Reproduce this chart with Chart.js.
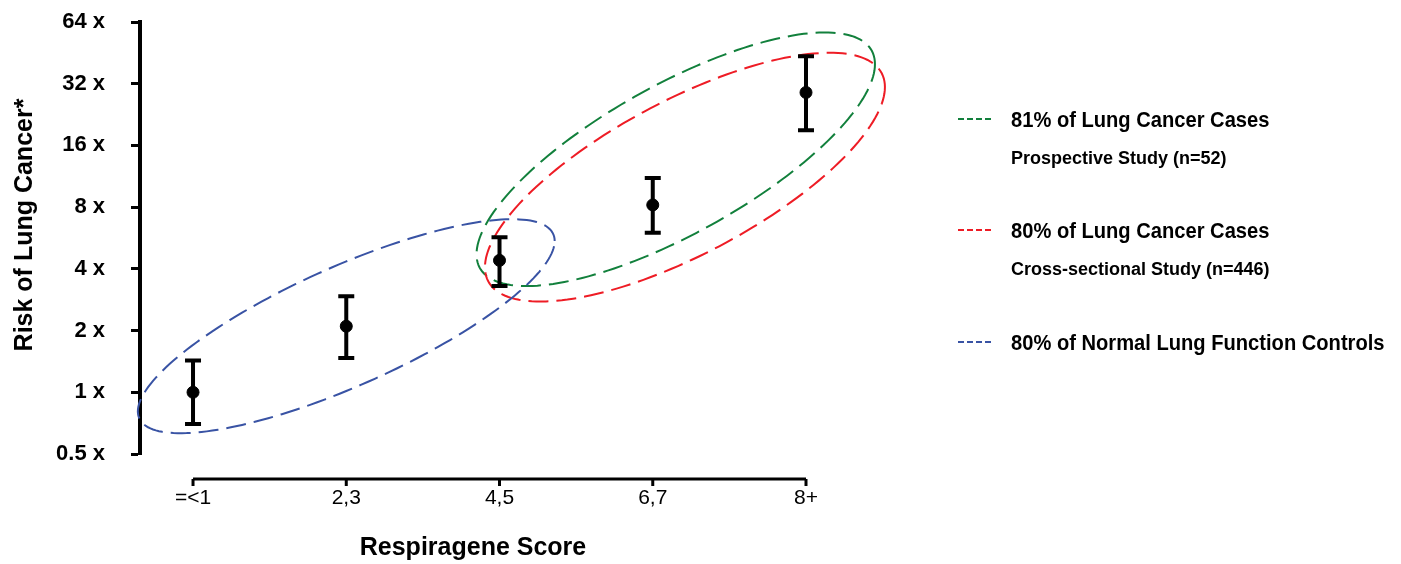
<!DOCTYPE html>
<html>
<head>
<meta charset="utf-8">
<script src="https://cdn.jsdelivr.net/npm/chart.js@4.4.1/dist/chart.umd.min.js"></script>
<style>
  html, body { margin: 0; padding: 0; background: #fff; }
  #wrap { position: relative; width: 1401px; height: 564px; }
</style>
</head>
<body>
<div id="wrap"><canvas id="riskChart"></canvas></div>
<script>
// Respiragene score vs. relative risk of lung cancer
const categories = ['=<1', '2,3', '4,5', '6,7', '8+'];
const riskValues = [1.0, 2.1, 4.4, 8.2, 29];
const riskLower = [0.70, 1.47, 3.3, 6.0, 19.0];
const riskUpper = [1.43, 2.94, 5.7, 11.1, 43.6];
const yTicks = [0.5, 1, 2, 4, 8, 16, 32, 64];

// 80% regions, in data units: centre (category index, risk), reach to the
// side point (categories, doublings) and vertical half height (doublings)
const regionLabels = ['81% of Lung Cancer Cases', '80% of Lung Cancer Cases', '80% of Normal Lung Function Controls'];
const regionNotes = ['Prospective Study (n=52)', 'Cross-sectional Study (n=446)', ''];
const regionCenterX = [3.15, 3.21, 1.0];
const regionCenterY = [13.7, 11.2, 2.1];
const regionReachX = [1.30, 1.305, 1.36];
const regionReachY = [1.54, 1.46, 1.38];
const regionHalfHeight = [1.36, 1.39, 1.05];
const regionColors = ['#12803c', '#ee1c25', '#3953a4'];

const FONT = '"Liberation Sans", Arial, sans-serif';

const overlayPlugin = {
    id: 'overlay',
    beforeDatasetsDraw(chart) {
        const ctx = chart.ctx;
        const xs = chart.scales.x, ys = chart.scales.y;
        ctx.save();

        // dashed ellipses
        regionCenterX.forEach((cx, i) => {
            const cy = Math.log2(regionCenterY[i]);
            ctx.beginPath();
            for (let k = 0; k <= 180; k++) {
                const t = k / 180 * Math.PI * 2;
                const dx = regionReachX[i] * Math.cos(t);
                const dy = regionReachY[i] * Math.cos(t) + regionHalfHeight[i] * Math.sin(t);
                const px = xs.getPixelForValue(cx + dx);
                const py = ys.getPixelForValue(Math.pow(2, cy + dy));
                if (k === 0) ctx.moveTo(px, py); else ctx.lineTo(px, py);
            }
            ctx.strokeStyle = regionColors[i];
            ctx.lineWidth = 2;
            ctx.setLineDash([20, 8]);
            ctx.stroke();
        });
        ctx.setLineDash([]);

        // error bars
        ctx.strokeStyle = '#000';
        ctx.lineWidth = 4;
        riskValues.forEach((v, i) => {
            const px = xs.getPixelForValue(i);
            const top = ys.getPixelForValue(riskUpper[i]);
            const bot = ys.getPixelForValue(riskLower[i]);
            ctx.beginPath();
            ctx.moveTo(px, top);
            ctx.lineTo(px, bot);
            ctx.moveTo(px - 8, top); ctx.lineTo(px + 8, top);
            ctx.moveTo(px - 8, bot); ctx.lineTo(px + 8, bot);
            ctx.stroke();
        });
        ctx.restore();
    },
    afterDraw(chart) {
        const ctx = chart.ctx;
        const xs = chart.scales.x;
        const area = chart.chartArea;
        ctx.save();

        // detached x axis line with small ticks
        const axisY = area.bottom + 25;
        const x0 = xs.getPixelForValue(0);
        const x1 = xs.getPixelForValue(categories.length - 1);
        ctx.strokeStyle = '#000';
        ctx.lineWidth = 3;
        ctx.beginPath();
        ctx.moveTo(x0, axisY);
        ctx.lineTo(x1, axisY);
        ctx.stroke();
        categories.forEach((c, i) => {
            const px = xs.getPixelForValue(i);
            ctx.beginPath();
            ctx.moveTo(px, axisY);
            ctx.lineTo(px, axisY + 7);
            ctx.stroke();
        });

        // y axis title
        ctx.fillStyle = '#000';
        ctx.font = 'bold 25px ' + FONT;
        ctx.textAlign = 'center';
        ctx.textBaseline = 'middle';
        ctx.translate(25, 225);
        ctx.rotate(-Math.PI / 2);
        ctx.fillText('Risk of Lung Cancer*', 0, 0);
        ctx.restore();

        // legend (narrow type, like the original)
        ctx.save();
        const lx = 958, tx = 1011;
        const rows = [119, 230, 342];
        regionLabels.forEach((label, i) => {
            const y = rows[i];
            ctx.strokeStyle = regionColors[i];
            ctx.lineWidth = 2;
            ctx.setLineDash([6, 3]);
            ctx.beginPath();
            ctx.moveTo(lx, y);
            ctx.lineTo(lx + 33, y);
            ctx.stroke();
            ctx.setLineDash([]);
            ctx.fillStyle = '#000';
            ctx.textAlign = 'left';
            ctx.textBaseline = 'alphabetic';
            ctx.save();
            ctx.translate(tx, y + 8);
            ctx.scale(0.915, 1);
            ctx.font = 'bold 22px ' + FONT;
            ctx.fillText(label, 0, 0);
            ctx.restore();
            if (regionNotes[i]) {
                ctx.font = 'bold 18px ' + FONT;
                ctx.fillText(regionNotes[i], tx, y + 45);
            }
        });
        ctx.restore();
    }
};

const ctx = document.getElementById('riskChart').getContext('2d');
const riskChart = new Chart(ctx, {
    type: 'scatter',
    data: {
        datasets: [{
            label: 'Risk',
            data: riskValues.map((v, i) => ({ x: i, y: v })),
            pointRadius: 6,
            pointBackgroundColor: '#000',
            pointBorderColor: '#000',
            clip: false
        }]
    },
    options: {
        responsive: true,
        maintainAspectRatio: false,
        animation: false,
        layout: {
            autoPadding: false,
            padding: { left: 0, top: 22, right: 595, bottom: 0 }
        },
        plugins: {
            legend: { display: false },
            tooltip: { enabled: false }
        },
        scales: {
            x: {
                type: 'linear',
                min: -0.346,
                max: categories.length - 1,
                afterFit(scale) {
                    scale.height = 110;
                    scale.paddingLeft = 0;
                    scale.paddingRight = 0;
                },
                afterBuildTicks(scale) {
                    scale.ticks = categories.map((c, i) => ({ value: i }));
                },
                grid: { display: false, drawTicks: false },
                border: { display: false },
                ticks: {
                    autoSkip: false,
                    maxRotation: 0,
                    padding: 32,
                    color: '#000',
                    font: { size: 21, family: FONT },
                    callback: (v) => categories[v]
                },
                title: {
                    display: true,
                    text: 'Respiragene Score',
                    color: '#000',
                    font: { size: 25, weight: 'bold', family: FONT },
                    padding: { top: 0, bottom: 1 }
                }
            },
            y: {
                type: 'logarithmic',
                min: 0.5,
                max: 64,
                afterFit(scale) {
                    scale.width = 140;
                    scale.paddingTop = 0;
                    scale.paddingBottom = 0;
                },
                afterBuildTicks(scale) {
                    scale.ticks = yTicks.map(v => ({ value: v }));
                },
                grid: {
                    display: true,
                    drawOnChartArea: false,
                    drawTicks: true,
                    tickLength: 9,
                    tickWidth: 3,
                    tickColor: '#000'
                },
                border: { display: true, color: '#000', width: 4 },
                ticks: {
                    padding: 26,
                    color: '#000',
                    font: { size: 22, weight: 'bold', family: FONT },
                    callback: (v) => v + ' x'
                }
            }
        }
    },
    plugins: [overlayPlugin]
});
</script>
</body>
</html>
